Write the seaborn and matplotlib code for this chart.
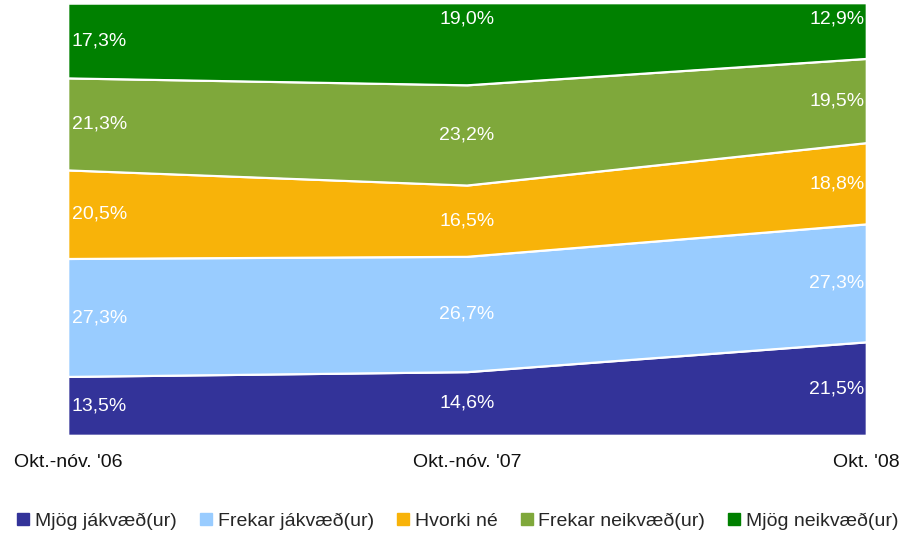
import matplotlib
matplotlib.use("Agg")
import matplotlib.pyplot as plt
from matplotlib.lines import Line2D
import numpy as np
import pandas as pd
import seaborn as sns

periods = ["Okt.-nóv. '06", "Okt.-nóv. '07", "Okt. '08"]
series_names = ["Mjög jákvæð(ur)", "Frekar jákvæð(ur)", "Hvorki né",
                "Frekar neikvæð(ur)", "Mjög neikvæð(ur)"]
mjog_jakv = [13.5, 14.6, 21.5]
frekar_jakv = [27.3, 26.7, 27.3]
hvorki = [20.5, 16.5, 18.8]
frekar_neikv = [21.3, 23.2, 19.5]
mjog_neikv = [17.3, 19.0, 12.9]
colors = ["#333399", "#99CCFF", "#F8B309", "#7FA83B", "#008000"]

sns.set_theme(style="white")
plt.rcParams["font.family"] = ["Liberation Sans", "DejaVu Sans"]

values = [mjog_jakv, frekar_jakv, hvorki, frekar_neikv, mjog_neikv]
df = pd.DataFrame({n: v for n, v in zip(series_names, values)})
df["x"] = np.arange(len(periods))

fig = plt.figure(figsize=(9.14, 5.34), dpi=100)
ax = fig.add_axes([68 / 914, 99 / 534, 798 / 914, 432 / 534])
ax.stackplot(df["x"], *[df[n] for n in series_names], colors=colors,
             edgecolor="white", linewidth=1.2)

cum = np.cumsum(np.array(values), axis=0)
for i in range(len(series_names) - 1):
    sns.lineplot(x=df["x"], y=cum[i], ax=ax, color="white", linewidth=1.2)

ax.set_xlim(0, len(periods) - 1)
ax.set_ylim(0, 100)
ax.set_xticks(df["x"])
ax.set_xticklabels(periods, fontsize=14, color="#111111")
ax.tick_params(axis="x", length=0, pad=14)
ax.set_yticks([])
ax.set_xlabel("")
ax.set_ylabel("")
for s in ax.spines.values():
    s.set_visible(False)

fs = 14
n_last = len(series_names) - 1
for j in range(len(periods)):
    bottom = 0
    for i, v in enumerate(values):
        val = v[j]
        mid = bottom + val / 2
        bottom += val
        if i == n_last and j > 0:
            mid = 96.3  # top label sits near the top edge
        label = f"{val:.1f}".replace(".", ",") + "%"
        if j == 0:
            ax.text(0.01, mid, label, ha="left", va="center", color="white", fontsize=fs)
        elif j == len(periods) - 1:
            ax.text(len(periods) - 1 - 0.004, mid, label, ha="right", va="center",
                    color="white", fontsize=fs)
        else:
            ax.text(j, mid, label, ha="center", va="center", color="white", fontsize=fs)

handles = [Line2D([0], [0], marker="s", linestyle="none", markersize=9,
                  markerfacecolor=c, markeredgecolor=c) for c in colors]
fig.legend(handles, series_names, loc="center", bbox_to_anchor=(0.5, 13 / 534),
           ncol=5, frameon=False, fontsize=14, handletextpad=0.2, columnspacing=1.1,
           handlelength=0.8, borderpad=0.1)

fig.savefig("out.png", dpi=100)
